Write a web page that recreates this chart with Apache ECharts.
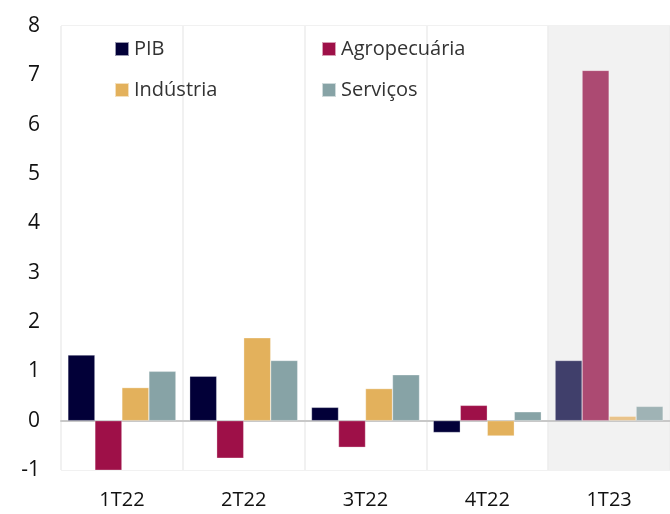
<!DOCTYPE html>
<html>
<head>
<meta charset="utf-8">
<script src="https://cdn.jsdelivr.net/npm/echarts@6/dist/echarts.min.js"></script>
<style>
  html, body { margin: 0; padding: 0; background: #fff; }
  #chartDiv { width: 670px; height: 514px; }
</style>
</head>
<body>
<div id="chartDiv"></div>
<script>
// 数据集
let quarters = ['1T22', '2T22', '3T22', '4T22', '1T23'];
let pib = [1.33, 0.90, 0.27, -0.24, 1.22];
let agro = [-1.03, -0.76, -0.54, 0.31, 7.1];
let industria = [0.67, 1.68, 0.65, -0.31, 0.09];
let servicos = [1.00, 1.22, 0.93, 0.18, 0.29];

// 颜色 (最后一季颜色较浅)
let baseColors = ['#020038', '#9e1048', '#e3b15c', '#87a3a6'];
let lastColors = ['#403f6b', '#ac4a72', '#e9c38a', '#9fb3b5'];
let names = ['PIB', 'Agropecuária', 'Indústria', 'Serviços'];
let values = [pib, agro, industria, servicos];

let myChart = echarts.init(document.getElementById('chartDiv'));

let series = [];
for (let i = 0; i < names.length; i++) {
    series.push({
        name: names[i],
        type: 'bar',
        barWidth: 27,
        barGap: '0%',
        itemStyle: {
            color: baseColors[i],
            borderColor: 'rgba(255,255,255,0.6)',
            borderWidth: 0.5
        },
        data: values[i].map(function (v, j) {
            return j === quarters.length - 1
                ? { value: v, itemStyle: { color: lastColors[i] } }
                : v;
        })
    });
}

let legendPos = [[114, 39], [321, 39], [114, 80], [321, 80]];
let legends = names.map(function (n, i) {
    return {
        data: [n],
        left: legendPos[i][0],
        top: legendPos[i][1],
        padding: 0,
        itemWidth: 14,
        itemHeight: 14,
        icon: 'rect',
        textStyle: { fontSize: 20, color: '#333', fontFamily: 'Open Sans' }
    };
});

let option = {
    backgroundColor: '#fff',
    animation: false,
    legend: legends,
    grid: { left: 61, right: -3, top: 26, bottom: 44 },
    xAxis: {
        type: 'category',
        data: quarters,
        axisLine: { onZero: true, lineStyle: { color: '#c8c8c8', width: 2 } },
        axisTick: { show: false },
        axisLabel: { fontSize: 20, color: '#111', fontFamily: 'Open Sans', margin: 20 },
        splitLine: { show: true, lineStyle: { color: '#ececec', width: 1.5 } },
        splitArea: {
            show: true,
            areaStyle: { color: ['#ffffff', '#ffffff', '#ffffff', '#ffffff', '#f2f2f2'] }
        }
    },
    yAxis: {
        type: 'value',
        min: -1,
        max: 8,
        interval: 1,
        axisLine: { show: false },
        axisTick: { show: false },
        axisLabel: { fontSize: 21, color: '#111', fontFamily: 'Open Sans', margin: 21 },
        splitLine: { lineStyle: { color: '#ececec', width: 1.5 } }
    },
    series: series
};
myChart.setOption(option);
</script>
</body>
</html>
